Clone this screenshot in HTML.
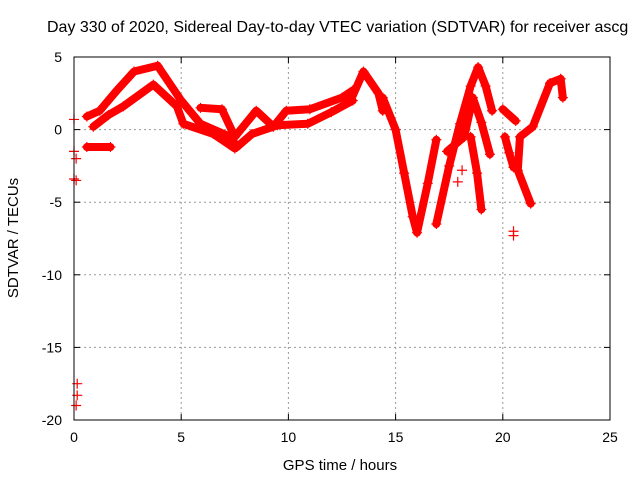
<!DOCTYPE html>
<html><head><meta charset="utf-8"><style>
body{margin:0;background:#fff}
svg{display:block;font-family:"Liberation Sans",sans-serif}
</style></head><body>
<svg id="chart" width="640" height="480">
<text x="47" y="32" font-size="16" text-anchor="start">Day 330 of 2020, Sidereal Day-to-day VTEC variation (SDTVAR) for receiver ascg</text>
<text x="340" y="470" font-size="15" text-anchor="middle">GPS time / hours</text>
<text x="18" y="238" font-size="15" text-anchor="middle" transform="rotate(-90 18 238)">SDTVAR / TECUs</text>
<g id="grid"></g><g id="ticks"></g><g id="series"></g>
<rect x="74" y="57" width="536" height="363" fill="none" stroke="#000"/>
</svg>
<script>
const xTicks=[0,5,10,15,20,25];
const yTicks=[5,0,-5,-10,-15,-20];
const trackA=[[0.6,0.9],[1.2,1.3],[2,2.7],[2.8,4],[3.9,4.4],[5,2],[5.9,0.4],[7.3,-0.5],[7.6,-1.2]];
const trackB=[[0.9,0.2],[1.6,1],[2.3,1.6],[3.7,3.1],[4.8,1.6],[5.1,0.4],[6.5,-0.3],[7.5,-1.3]];
const trackC=[[5.9,1.5],[6.9,1.4],[7.5,-0.5],[8.5,1.3],[9.3,0.2],[9.9,1.3],[11,1.4],[12.5,2.2],[13,2.7]];
const trackD=[[7.6,-1.2],[8.3,-0.3],[9.5,0.3],[10.9,0.4],[12,1.2],[13,2]];
const trackE=[[12.9,2],[13.5,4],[14.2,2.5],[14.4,1.3]];
const trackF=[[14.4,2.2],[15,0],[15.4,-3],[15.8,-6],[16,-7.1],[16.5,-3.7],[16.9,-0.7]];
const trackG=[[16.9,-6.5],[17.5,-2.5],[18,0.4],[18.5,3],[18.85,4.3],[19.2,3],[19.5,1.3]];
const trackH=[[17.4,-1.5],[18.2,-0.5],[18.6,2.2],[19,0.5],[19.4,-1.7]];
const trackI=[[18.5,-0.5],[18.8,-3],[19,-5.5]];
const trackJ=[[20,1.4],[20.6,0.6]];
const trackK=[[20.1,-0.5],[20.3,-1.6],[20.5,-2.6]];
const trackL=[[21.3,-5.1],[20.7,-2.8],[20.8,-0.5],[21.4,0.2],[22.2,3.2],[22.7,3.5],[22.8,2.2]];
const trackM=[[0.6,-1.2],[1.7,-1.2]];
const pointsN=[[0,0.7],[0,-1.5],[0.1,-2],[0,-3.4],[0.1,-3.5],[0.15,-17.5],[0.15,-18.3],[0.1,-19],[20.5,-7],[20.5,-7.3],[17.9,-3.6],[18.1,-2.8]];
const tracks=[trackA,trackB,trackC,trackD,trackE,trackF,trackG,trackH,trackI,trackJ,trackK,trackL,trackM];
const NS="http://www.w3.org/2000/svg";
const X=v=>74+v*536/25, Y=v=>57+(5-v)*363/25;
function mk(t,a,p){const e=document.createElementNS(NS,t);for(const k in a)e.setAttribute(k,a[k]);p.appendChild(e);return e;}
const g=document.getElementById('grid'),tk=document.getElementById('ticks'),s=document.getElementById('series');
xTicks.forEach(v=>{const x=X(v);
 if(v>0&&v<25){const l=mk('line',{x1:x,x2:x,y1:57,y2:420,stroke:'#999','stroke-dasharray':'2,3'},g);}
 const t=mk('text',{x:x,y:442,'font-size':14,'text-anchor':'middle'},tk);t.textContent=v;
 mk('line',{x1:x,x2:x,y1:420,y2:414,stroke:'#000'},tk);mk('line',{x1:x,x2:x,y1:57,y2:63,stroke:'#000'},tk);});
yTicks.forEach(v=>{const y=Y(v);
 if(v<5&&v>-20){const l=mk('line',{x1:74,x2:610,y1:y,y2:y,stroke:'#999','stroke-dasharray':'2,3'},g);}
 const t=mk('text',{x:62,y:y+5,'font-size':14,'text-anchor':'end'},tk);t.textContent=v;
 mk('line',{x1:74,x2:80,y1:y,y2:y,stroke:'#000'},tk);mk('line',{x1:610,x2:604,y1:y,y2:y,stroke:'#000'},tk);});
tracks.forEach(tr=>{const p=mk('polyline',{points:tr.map(d=>X(d[0])+','+Y(d[1])).join(' '),fill:'none',stroke:'#f00','stroke-width':8,'stroke-linejoin':'round','stroke-linecap':'round'},s);
 });
tracks.concat([pointsN]).forEach(tr=>tr.forEach(d=>{const x=X(d[0]),y=Y(d[1]);
 const m=mk('path',{d:`M${x-5},${y}H${x+5}M${x},${y-5}V${y+5}`,stroke:'#f00','stroke-width':1.2},s);
 }));
</script>
</body></html>
